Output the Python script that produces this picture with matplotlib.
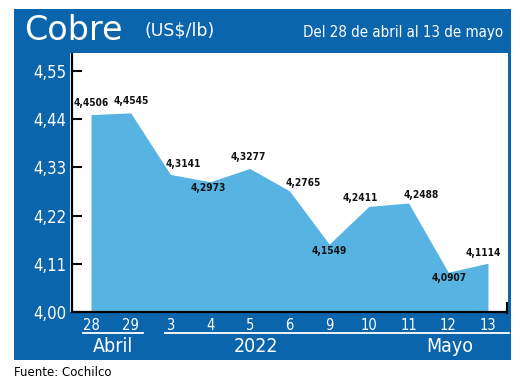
import matplotlib
matplotlib.use("Agg")
from matplotlib import pyplot as plt
from matplotlib.patches import Rectangle
from matplotlib.lines import Line2D

# datos del cobre (US$/lb)
dias = ["28", "29", "3", "4", "5", "6", "9", "10", "11", "12", "13"]
precios = [4.4506, 4.4545, 4.3141, 4.2973, 4.3277, 4.2765, 4.1549, 4.2411, 4.2488, 4.0907, 4.1114]
y_ticks = [4.00, 4.11, 4.22, 4.33, 4.44, 4.55]
etiquetas = ["4,4506", "4,4545", "4,3141", "4,2973", "4,3277", "4,2765",
             "4,1549", "4,2411", "4,2488", "4,0907", "4,1114"]
# desplazamiento de cada etiqueta (pixeles)
offsets = [(0, 12), (1, 12), (13, 10), (-2, -6), (-2, 11), (14, 8),
           (0, -7), (-9, 8), (13, 8), (1, -6), (-5, 10)]

AZUL = "#0b65ad"
CELESTE = "#56b3e2"
NARROW = dict(family="DejaVu Sans", stretch="condensed")
W, H = 520, 381


def fx(x):
    return x / W


def fy(y):
    return 1 - y / H


fig = plt.figure(figsize=(5.2, 3.81), dpi=100)
fig.patch.set_facecolor("white")

# panel azul
fig.patches.append(Rectangle((fx(14), fy(360)), fx(511) - fx(14), fy(9) - fy(360),
                             transform=fig.transFigure, facecolor=AZUL, edgecolor="none", zorder=-2))
# zona blanca
fig.patches.append(Rectangle((fx(70), fy(312)), fx(508) - fx(70), fy(53) - fy(312),
                             transform=fig.transFigure, facecolor="white", edgecolor="none", zorder=-1))

ax = fig.add_axes([fx(72), fy(312), fx(507) - fx(72), fy(54) - fy(312)])
ax.set_zorder(2)
ax.set_facecolor("none")
x = list(range(len(dias)))
ax.fill_between(x, 4.0, precios, color=CELESTE, linewidth=0, zorder=1)
ax.set_xlim(-0.479, 10.48)
ax.set_ylim(4.0, 4.589)

for xi, p, lab, off in zip(x, precios, etiquetas, offsets):
    ax.annotate(lab, (xi, p), xytext=off, textcoords="offset pixels",
                ha="center", va="center", fontsize=7.3, fontweight="bold",
                color="#111111", zorder=3, **NARROW)

ax.set_yticks(y_ticks)
ax.set_yticklabels([f"{v:.2f}".replace(".", ",") for v in y_ticks])
ax.set_xticks(x)
ax.set_xticklabels(dias)
ax.tick_params(axis="y", direction="in", length=7, width=1.5, colors="black",
               labelcolor="white", labelsize=12, pad=4)
ax.tick_params(axis="x", length=0, labelcolor="white", labelsize=10.5, pad=4)
for t in ax.get_yticklabels() + ax.get_xticklabels():
    t.set_family(NARROW["family"])
    t.set_stretch(NARROW["stretch"])
for s in ["top", "right"]:
    ax.spines[s].set_visible(False)
ax.spines["left"].set_linewidth(1.6)
ax.spines["bottom"].set_linewidth(1.6)

# pequeño remate a la derecha del eje x
fig.add_artist(Line2D([fx(507), fx(507)], [fy(313), fy(303)], color="black", linewidth=1.5))

# lineas blancas de meses
fig.add_artist(Line2D([fx(83), fx(143)], [fy(333), fy(333)], color="white", linewidth=1.3))
fig.add_artist(Line2D([fx(165), fx(509)], [fy(333), fy(333)], color="white", linewidth=1.3))
fig.text(fx(113), fy(346), "Abril", color="white", fontsize=14, ha="center", va="center", **NARROW)
fig.text(fx(256), fy(346), "2022", color="white", fontsize=14, ha="center", va="center", **NARROW)
fig.text(fx(450), fy(346), "Mayo", color="white", fontsize=14, ha="center", va="center", **NARROW)

# titulo
fig.text(fx(24), fy(30), "Cobre", color="white", fontsize=24, ha="left", va="center", family="DejaVu Sans")
fig.text(fx(144), fy(31), "(US$/lb)", color="white", fontsize=12.5, ha="left", va="center", family="DejaVu Sans")
fig.text(fx(503), fy(33), "Del 28 de abril al 13 de mayo", color="white", fontsize=10.8,
         ha="right", va="center", **NARROW)

fig.text(fx(14), fy(372), "Fuente: Cochilco", color="black", fontsize=8.5, ha="left", va="center")

fig.savefig("out.png", dpi=100)
